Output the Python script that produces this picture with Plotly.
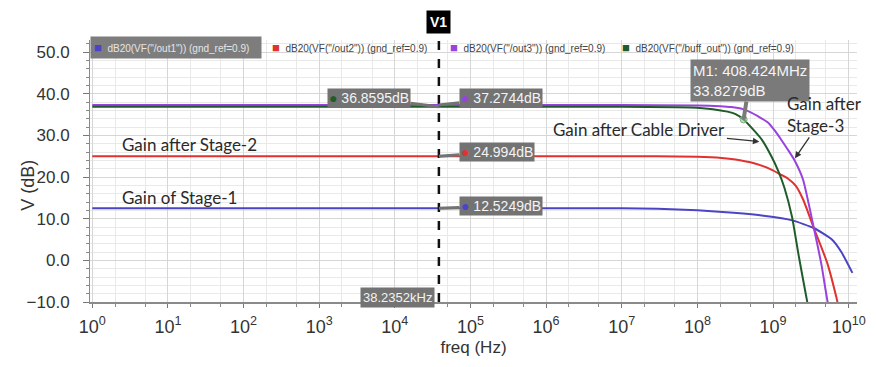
import math
import plotly.graph_objects as go

# ---------------- data ----------------
freq_out1 = [1, 1e6, 1e7, 3e7, 1e8, 3e8, 7.5e8, 1.8e9, 3.5e9, 6e9, 8e9, 1.12e10]
db_out1 = [12.52, 12.52, 12.5, 12.4, 12.0, 11.4, 10.7, 9.6, 7.7, 5.0, 2.0, -3.0]

freq_out2 = [1, 1e7, 1e8, 2.1e8, 3.2e8, 5.6e8, 9.5e8, 1.26e9, 1.58e9, 2.0e9, 2.5e9, 3.47e9,
             5.2e9, 6.9e9, 7.3e9]
db_out2 = [24.994, 24.994, 24.9, 24.6, 24.2, 23.3, 21.8, 20.6, 19.6, 17.9, 14.6, 7.7,
           -0.6, -9.0, -11.0]

freq_out3 = [1, 1e7, 1e8, 2e8, 2.8e8, 4e8, 5e8, 6.3e8, 8.7e8, 1.07e9, 1.29e9, 1.58e9, 1.9e9,
             2.5e9, 3.47e9, 4.37e9, 5.25e9, 5.5e9]
db_out3 = [37.2744, 37.2744, 37.2, 37.0, 36.8, 36.3, 35.6, 34.6, 33.0, 31.0, 28.9, 26.5, 24.2,
           19.3, 7.7, -1.1, -9.8, -11.0]

freq_buff = [1, 1e7, 8e7, 1.6e8, 2.5e8, 3.2e8, 4.08424e8, 5.6e8, 7.1e8, 9.5e8, 1.17e9, 1.41e9,
             1.78e9, 2.19e9, 2.82e9, 2.95e9]
db_buff = [36.8595, 36.8595, 36.7, 36.3, 35.7, 35.1, 33.8279, 31.2, 29.0, 25.0, 21.5, 17.5,
           10.5, 1.0, -9.8, -11.5]

series_names = ['dB20(VF("/out1")) (gnd_ref=0.9)', 'dB20(VF("/out2")) (gnd_ref=0.9)',
                'dB20(VF("/out3")) (gnd_ref=0.9)', 'dB20(VF("/buff_out")) (gnd_ref=0.9)']
series_colors = ["#4c44c6", "#e0322f", "#9a42dc", "#1f5c29"]

v1_freq = 38235.2
v1_vals = [36.8595, 37.2744, 24.994, 12.5249]
m1_freq = 408.424e6
m1_val = 33.8279

x_tickvals = [10 ** k for k in range(0, 11)]
x_ticktext = ["10<sup>%d</sup>" % k for k in range(0, 11)]
y_tickvals = [-10, 0, 10, 20, 30, 40, 50]

# ---------------- figure ----------------
fig = go.Figure()
for f, d, c in zip([freq_out1, freq_out2, freq_out3, freq_buff],
                   [db_out1, db_out2, db_out3, db_buff], series_colors):
    fig.add_trace(go.Scatter(x=f, y=d, mode="lines",
                             line=dict(color=c, width=2, shape="spline", smoothing=0.5),
                             showlegend=False, hoverinfo="skip"))

# M1 marker point
fig.add_trace(go.Scatter(x=[m1_freq], y=[m1_val], mode="markers",
                         marker=dict(symbol="circle", size=7, color="rgba(150,200,150,0.6)",
                                     line=dict(color="#7fb07f", width=1)),
                         showlegend=False, hoverinfo="skip"))

grid_major = "#d6d6d6"
grid_minor = "#e9e9e9"
tick_font = dict(family="Liberation Sans, Arial, sans-serif", size=17, color="#333333")

fig.update_layout(
    width=876, height=367,
    margin=dict(l=90, r=19, t=40, b=65, autoexpand=False),
    paper_bgcolor="#ffffff", plot_bgcolor="#ffffff",
    font=dict(family="Liberation Sans, Arial, sans-serif", color="#333333"),
    showlegend=False,
    xaxis=dict(type="log", range=[-0.03, 10.11], tickvals=x_tickvals, ticktext=x_ticktext,
               tickfont=dict(family="Liberation Sans, Arial, sans-serif", size=18, color="#333333"),
               showgrid=True, gridcolor=grid_major, gridwidth=1,
               showline=True, linecolor="#8a8a8a", linewidth=2,
               ticks="outside", ticklen=4, tickcolor="#777777",
               minor=dict(showgrid=True, gridcolor=grid_minor, ticks="outside", ticklen=3,
                          tickcolor="#888888"),
               title=dict(text="freq (Hz)", font=dict(size=17, color="#333333"), standoff=6),
               ticklabelstandoff=3, zeroline=False, automargin=False),
    yaxis=dict(range=[-10, 52.9], tickvals=y_tickvals, tickformat=".1f", tickfont=tick_font,
               showgrid=True, gridcolor=grid_major, showline=True, linecolor="#8a8a8a", linewidth=1,
               ticks="outside", ticklen=6, tickcolor="#777777",
               minor=dict(dtick=2, showgrid=True, gridcolor=grid_minor, ticks="outside",
                          ticklen=3, tickcolor="#888888"),
               ticklabelstandoff=10, zeroline=False, automargin=False),
)

# y-axis title
fig.add_annotation(xref="paper", yref="paper", x=-0.0965, y=0.447, text="V (dB)", textangle=-90,
                   showarrow=False, font=dict(size=18, color="#333333"))

# V1 vertical marker line
fig.add_shape(type="line", xref="x", yref="paper", x0=v1_freq, x1=v1_freq, y0=0, y1=1.035,
              line=dict(color="#111111", width=2.5, dash="dash"), layer="above")

lv1 = math.log10(v1_freq)
fig.add_annotation(xref="x", yref="paper", x=lv1, y=1.068, yanchor="middle", text="<b>V1</b>",
                   showarrow=False, bgcolor="#000000", font=dict(color="#ffffff", size=14),
                   borderpad=3)
fig.add_annotation(xref="x", yref="paper", x=lv1, y=0.018, text="38.2352kHz", showarrow=False,
                   xanchor="right", xshift=-4, yanchor="middle",
                   bgcolor="#737373", font=dict(color="#f2f2f2", size=13), borderpad=2)

# marker readouts at V1
readout_cols = [series_colors[3], series_colors[2], series_colors[1], series_colors[0]]
readout_txt = ["36.8595dB", "37.2744dB", "24.994dB", "12.5249dB"]
readout_off = [(-70, -9), (62, -7), (58, -4), (62, -2)]
for val, col, txt, (axo, ayo) in zip(v1_vals, readout_cols, readout_txt, readout_off):
    fig.add_annotation(xref="x", yref="y", x=lv1, y=val,
                       text="<span style='color:%s'>●</span> %s" % (col, txt),
                       showarrow=True, arrowhead=0, arrowwidth=3, arrowcolor="#737373",
                       ax=axo, ay=ayo, bgcolor="#737373", font=dict(color="#f4f4f4", size=14),
                       borderpad=1)

# M1 readout
fig.add_annotation(xref="x", yref="y", x=math.log10(m1_freq), y=m1_val,
                   text="M1: 408.424MHz<br>33.8279dB", align="left",
                   showarrow=True, arrowhead=0, arrowwidth=4, arrowcolor="#7a7a7a",
                   ax=6, ay=-39, bgcolor="#7a7a7a", font=dict(color="#f4f4f4", size=15),
                   borderpad=2)

# descriptive labels
lab_font = dict(family="Lato, sans-serif", size=17, color="#2a2a2a")
fig.add_annotation(xref="x", yref="y", x=0.37, y=27.7, text="Gain after Stage-2",
                   showarrow=False, xanchor="left", font=lab_font)
fig.add_annotation(xref="x", yref="y", x=0.37, y=15.2, text="Gain of Stage-1",
                   showarrow=False, xanchor="left", font=lab_font)
fig.add_annotation(xref="x", yref="y", x=math.log10(6.6e8), y=28.5, text="Gain after Cable Driver",
                   showarrow=True, arrowhead=2, arrowsize=1, arrowwidth=1.3, arrowcolor="#333333",
                   ax=-120, ay=-12, font=lab_font)
fig.add_annotation(xref="x", yref="y", x=math.log10(1.95e9), y=24.5, text="Gain after<br>Stage-3",
                   align="left", showarrow=True, arrowhead=2, arrowsize=1, arrowwidth=1.3,
                   arrowcolor="#333333", ax=30, ay=-44, font=lab_font)

# top legend strip
leg_x = [0.0, 0.232, 0.4635, 0.688]
for i, (nm, col, lx) in enumerate(zip(series_names, series_colors, leg_x)):
    pad = "&nbsp;&nbsp;&nbsp;" if i == 0 else ""
    fig.add_annotation(xref="paper", yref="paper", x=lx, y=0.972, xanchor="left", yanchor="middle",
                       text="<span style='color:%s;font-size:13px'>■</span>  %s%s" % (col, nm, pad),
                       showarrow=False,
                       bgcolor="#7d7d7d" if i == 0 else "rgba(0,0,0,0)",
                       font=dict(size=10, color="#e6e6e6" if i == 0 else "#444444"),
                       borderpad=3)

fig.write_html("out.html", config={"displayModeBar": False},
               post_script="document.body.style.margin='0';")
